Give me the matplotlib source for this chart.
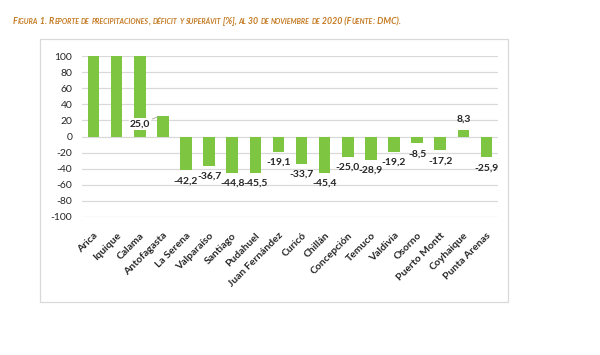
import matplotlib
matplotlib.use("Agg")
import matplotlib.pyplot as plt
from matplotlib.patches import Rectangle
from matplotlib import font_manager

categories = ["Arica", "Iquique", "Calama", "Antofagasta", "La Serena", "Valparaíso",
              "Santiago", "Pudahuel", "Juan Fernández", "Curicó", "Chillán", "Concepción",
              "Temuco", "Valdivia", "Osorno", "Puerto Montt", "Coyhaique", "Punta Arenas"]
values = [100, 100, 100, 25.0, -42.2, -36.7, -44.8, -45.5, -19.1, -33.7, -45.4, -25.0,
          -28.9, -19.2, -8.5, -17.2, 8.3, -25.9]
show_label = [False, False, False, True] + [True] * 14
yticks = [-100, -80, -60, -40, -20, 0, 20, 40, 60, 80, 100]
title = "Figura 1. Reporte de precipitaciones, déficit y superávit [%], al 30 de noviembre de 2020 (Fuente: DMC)."

FONT = ["Lato", "DejaVu Sans"]
GREEN = "#7EC642"
TXT = "#262626"

names = {f.name for f in font_manager.fontManager.ttflist}
TFONT = ["Liberation Sans Narrow", "Lato"] if "Liberation Sans Narrow" in names else ["Lato"]

fig = plt.figure(figsize=(6, 3.55), dpi=100)
W, H = 600, 355

# outer chart frame
fig.patches.append(Rectangle((40 / W, 1 - 302 / H), (508 - 40) / W, (302 - 39) / H,
                             transform=fig.transFigure, fill=False,
                             edgecolor="#D9D9D9", linewidth=0.9))

ax = fig.add_axes([82 / W, 1 - 217 / H, (498 - 82) / W, (217 - 56) / H])
x = list(range(len(categories)))
ax.bar(x, values, width=0.5, color=GREEN, zorder=2)
ax.set_xlim(-0.5, len(categories) - 0.5)
ax.set_ylim(-100, 100)
ax.set_yticks(yticks)
ax.set_yticklabels([str(v) for v in yticks], fontsize=7.5, color=TXT, family=FONT)
ax.set_xticks(x)
ax.set_xticklabels(categories, rotation=45, ha="right", rotation_mode="anchor",
                   fontsize=7.5, fontweight="bold", color=TXT, family=FONT)
ax.tick_params(axis="both", length=0)
ax.tick_params(axis="y", pad=7)
ax.tick_params(axis="x", pad=10)
for s in ax.spines.values():
    s.set_visible(False)
ax.yaxis.grid(True, color="#D9D9D9", linewidth=0.9, zorder=0)
ax.set_axisbelow(True)

def fmt(v):
    return f"{v:.1f}".replace(".", ",")

for i, (v, show) in enumerate(zip(values, show_label)):
    if not show:
        continue
    if i == 3:
        # moved label with leader line
        ax.annotate(fmt(v), xy=(i - 0.22, v - 0.5), xytext=(i - 1.0, 15.5),
                    ha="center", va="center", fontsize=7.5, fontweight="bold",
                    color=TXT, family=FONT, zorder=4,
                    bbox=dict(boxstyle="square,pad=0.1", facecolor="white", edgecolor="none"),
                    arrowprops=dict(arrowstyle="-", color="#A6A6A6", linewidth=0.6,
                                    shrinkA=1, shrinkB=0))
        continue
    off = 7.5 if v >= 0 else -7.5
    ax.annotate(fmt(v), xy=(i, v), xytext=(0, off), textcoords="offset points",
                ha="center", va="center", fontsize=7.5, fontweight="bold",
                color=TXT, family=FONT, zorder=4)

# Title in emulated small caps, scaled to the reference width
TCOL = "#C47A22"
target_right = 398.0
fig.canvas.draw()
renderer = fig.canvas.get_renderer()

runs = []
cur = ""
cur_small = None
for ch in title:
    is_small = ch.islower()
    if cur_small is None or is_small == cur_small:
        cur += ch
        cur_small = is_small
    else:
        runs.append((cur, cur_small))
        cur, cur_small = ch, is_small
runs.append((cur, cur_small))

def draw_title(big, remove=False):
    small = big * 0.8
    xpix, ypix = 13.0, H - 24.5
    texts = []
    for txt, sm in runs:
        t = fig.text(xpix / W, ypix / H, txt.upper() if sm else txt,
                     fontsize=small if sm else big, fontweight="bold", fontstyle="italic",
                     color=TCOL, family=TFONT, ha="left", va="baseline")
        bb = t.get_window_extent(renderer=renderer)
        xpix += bb.width
        texts.append(t)
    if remove:
        for t in texts:
            t.remove()
    return xpix

probe = draw_title(8.0, remove=True)
big = 8.0 * (target_right - 13.0) / (probe - 13.0)
draw_title(big)

fig.savefig("out.png", dpi=100, facecolor="white")
